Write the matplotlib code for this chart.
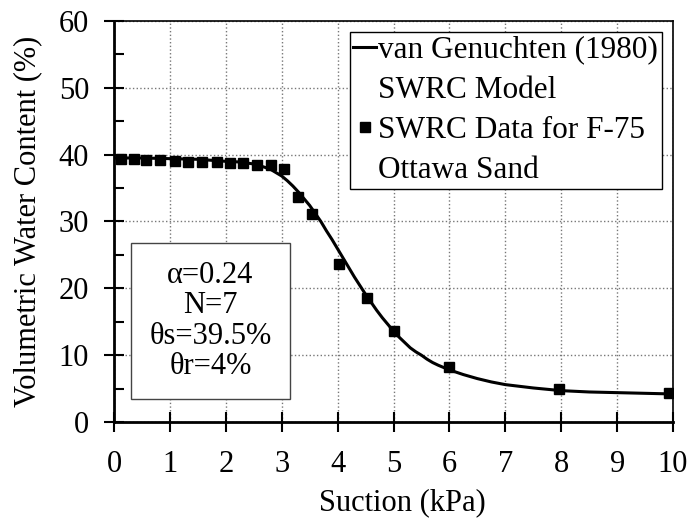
import matplotlib.pyplot as plt
from matplotlib.lines import Line2D
from matplotlib.ticker import MultipleLocator

plt.rcParams['font.family'] = ['Liberation Serif', 'DejaVu Serif']

# measured SWRC data (suction kPa, water content %)
data_suction = [0.12, 0.35, 0.58, 0.82, 1.09, 1.33, 1.57, 1.84, 2.08, 2.31, 2.55,
                2.80, 3.04, 3.30, 3.54, 4.03, 4.52, 5.01, 6.00, 7.96, 9.93]
data_theta = [39.4, 39.3, 39.2, 39.2, 39.0, 38.9, 38.9, 38.9, 38.8, 38.7, 38.5,
              38.4, 37.8, 33.7, 31.1, 23.7, 18.6, 13.6, 8.3, 5.0, 4.4]

# model curve
model_suction = [0, 0.5, 1, 1.5, 2, 2.25, 2.5, 2.7, 2.8, 2.9, 3.0, 3.1, 3.2, 3.3,
                 3.4, 3.5, 3.6, 3.7, 3.8, 3.9, 4.0, 4.1, 4.2, 4.3, 4.4, 4.5, 4.6,
                 4.7, 4.8, 4.9, 5.0, 5.1, 5.2, 5.3, 5.4, 5.5, 5.6, 5.7, 5.8, 6.0,
                 6.25, 6.5, 6.75, 7.0, 7.5, 8.0, 8.5, 9.0, 9.5, 10.0]
model_theta = [39.5, 39.5, 39.4, 39.3, 39.0, 38.9, 38.6, 38.1, 37.8, 37.3, 36.8,
               36.1, 35.3, 34.4, 33.4, 32.4, 31.2, 30.0, 28.6, 27.3, 25.9, 24.5,
               23.1, 21.7, 20.4, 19.1, 17.9, 16.7, 15.6, 14.6, 13.6, 12.7, 11.9,
               11.1, 10.5, 10.0, 9.4, 8.9, 8.5, 7.8, 7.1, 6.5, 6.0, 5.6, 5.1, 4.7,
               4.5, 4.4, 4.3, 4.2]

params = ["α=0.24", "N=7", "θs=39.5%", "θr=4%"]
legend_lines = ["van Genuchten (1980)", "SWRC Model", "SWRC Data for F-75", "Ottawa Sand"]

fs = 22

fig = plt.figure(figsize=(6.91, 5.23), dpi=100)
ax = fig.add_axes([0.165, 0.193, 0.809, 0.767])

model_line, = ax.plot(model_suction, model_theta, color='black', lw=2.2, zorder=3)
data_pts, = ax.plot(data_suction, data_theta, 's', color='black', ms=7.5, ls='none',
                    zorder=4)

ax.set_xlim(0, 10)
ax.set_ylim(0, 60)
ax.xaxis.set_major_locator(MultipleLocator(1))
ax.yaxis.set_major_locator(MultipleLocator(10))
ax.yaxis.set_minor_locator(MultipleLocator(5))
ax.tick_params(axis='both', which='major', direction='inout', length=14, width=1.5,
               labelsize=fs)
ax.tick_params(axis='y', which='minor', direction='in', length=7, width=1.5)
ax.tick_params(axis='x', pad=13)
ax.tick_params(axis='y', pad=11)
ax.grid(True, which='major', ls=':', color='#777777', lw=1)

for side in ['left', 'bottom']:
    ax.spines[side].set_linewidth(2)
for side in ['top', 'right']:
    ax.spines[side].set_linewidth(1.2)

ax.set_xlabel('Suction (kPa)', fontsize=fs)
ax.xaxis.set_label_coords(0.515, -0.165)
ax.set_ylabel('Volumetric Water Content (%)', fontsize=fs)
ax.yaxis.set_label_coords(-0.128, 0.5)

# legend with the handle on the first line of each entry
blank = Line2D([], [], ls='none')
small_sq = Line2D([], [], marker='s', color='black', ms=6.5, ls='none')
leg = ax.legend([model_line, blank, small_sq, blank], legend_lines,
                loc='upper right', fontsize=22.5, handlelength=0.72,
                handletextpad=0.08, borderpad=0.12, labelspacing=0.36,
                fancybox=False, framealpha=1, edgecolor='black',
                borderaxespad=0.35)
leg.get_frame().set_linewidth(1)

ax.text(0.1726, 0.252, "\n".join(params), transform=ax.transAxes, fontsize=fs,
        ha='center', va='center', linespacing=1.05,
        bbox=dict(boxstyle='square,pad=0.6', fc='white', ec='#444444', lw=1))

fig.savefig('out.png', dpi=100)
